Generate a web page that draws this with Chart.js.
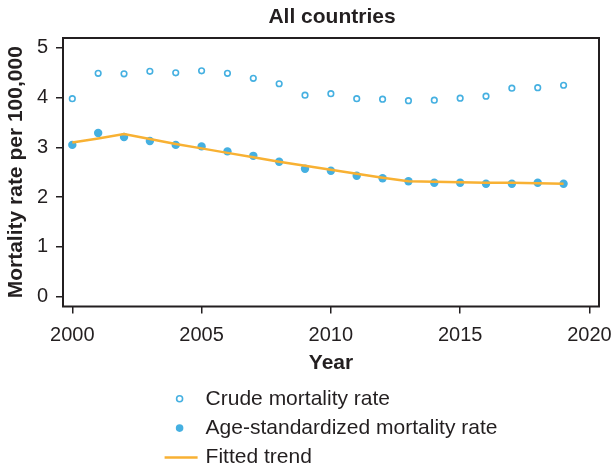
<!DOCTYPE html>
<html>
<head>
<meta charset="utf-8">
<title>All countries</title>
<script src="https://cdn.jsdelivr.net/npm/chart.js@4.4.1/dist/chart.umd.min.js"></script>
<style>
  html, body { margin: 0; padding: 0; background: #ffffff; }
  #wrap { width: 614px; height: 474px; }
  canvas { display: block; }
</style>
</head>
<body>
<div id="wrap"><canvas id="chart" width="614" height="474"></canvas></div>
<script>
// Mortality rate per 100,000, all countries, 2000-2019
const years = [2000, 2001, 2002, 2003, 2004, 2005, 2006, 2007, 2008, 2009,
               2010, 2011, 2012, 2013, 2014, 2015, 2016, 2017, 2018, 2019];
const crudeRate = [3.98, 4.49, 4.48, 4.53, 4.50, 4.54, 4.49, 4.39, 4.28, 4.05,
                   4.08, 3.98, 3.97, 3.94, 3.95, 3.99, 4.03, 4.19, 4.20, 4.25];
const ageStdRate = [3.05, 3.29, 3.21, 3.13, 3.05, 3.02, 2.92, 2.83, 2.71, 2.57,
                    2.53, 2.43, 2.38, 2.32, 2.29, 2.29, 2.27, 2.27, 2.29, 2.27];
const fittedTrend = [3.10, 3.18, 3.27, 3.17, 3.07, 2.98, 2.89, 2.80, 2.71, 2.63,
                     2.55, 2.47, 2.39, 2.32, 2.31, 2.30, 2.29, 2.29, 2.28, 2.27];
const xTicks = [2000, 2005, 2010, 2015, 2020];
const yTicks = [0, 1, 2, 3, 4, 5];
const chartTitle = 'All countries';
const xTitle = 'Year';
const yTitle = 'Mortality rate per 100,000';
const seriesLabels = ['Crude mortality rate', 'Age-standardized mortality rate', 'Fitted trend'];

const FONT = '"Liberation Sans", Arial, Helvetica, sans-serif';
const INK = '#231f20';
const BLUE = '#45b0e1';
const ORANGE = '#f8b133';

const toPoints = (vals) => years.map((y, i) => ({ x: y, y: vals[i] }));

// Fixed axis sizes; edge labels may overhang without shrinking the plot
const fixSize = (prop, size) => (s) => {
  s[prop] = size;
  s.paddingLeft = s.paddingRight = s.paddingTop = s.paddingBottom = 0;
};

// Frame around the plot area plus the centred title
const framePlugin = {
  id: 'frame',
  afterDraw(chart) {
    const { ctx, chartArea: a } = chart;
    ctx.save();
    ctx.strokeStyle = INK;
    ctx.lineWidth = 2;
    ctx.strokeRect(a.left, a.top, a.right - a.left, a.bottom - a.top);
    ctx.fillStyle = INK;
    ctx.font = 'bold 21px ' + FONT;
    ctx.textAlign = 'center';
    ctx.textBaseline = 'middle';
    ctx.fillText(chartTitle, (a.left + a.right) / 2 + 1, 17.5);
    ctx.restore();
  }
};

// Stacked legend under the x axis, styled from each dataset
const legendPlugin = {
  id: 'stackedLegend',
  afterDraw(chart) {
    const { ctx, chartArea: a } = chart;
    const ds = chart.data.datasets;
    ctx.save();
    ctx.font = '21px ' + FONT;
    const textW = Math.max(...ds.map(d => ctx.measureText(d.label).width));
    const markW = 33, gap = 8;
    const left = (a.left + a.right) / 2 - (markW + gap + textW) / 2;
    const markX = left + 15;
    const rowY = (i) => a.bottom + 92.3 + i * 29.3;
    ds.forEach((d, i) => {
      const y = rowY(i);
      if (d.showLine) {
        ctx.strokeStyle = d.borderColor;
        ctx.lineWidth = d.borderWidth;
        ctx.beginPath();
        ctx.moveTo(left, y);
        ctx.lineTo(left + markW, y);
        ctx.stroke();
      } else {
        ctx.beginPath();
        ctx.arc(markX, y, d.legendRadius, 0, Math.PI * 2);
        ctx.fillStyle = d.pointBackgroundColor;
        ctx.fill();
        if (d.pointBorderWidth > 0) {
          ctx.strokeStyle = d.pointBorderColor;
          ctx.lineWidth = d.pointBorderWidth;
          ctx.stroke();
        }
      }
      ctx.fillStyle = INK;
      ctx.textAlign = 'left';
      ctx.textBaseline = 'middle';
      ctx.fillText(d.label, left + markW + gap, y);
    });
    ctx.restore();
  }
};

new Chart(document.getElementById('chart'), {
  type: 'scatter',
  data: {
    datasets: [
      {
        label: seriesLabels[0],
        data: toPoints(crudeRate),
        showLine: false,
        pointRadius: 2.8,
        pointBorderWidth: 1.6,
        pointBackgroundColor: '#ffffff',
        pointBorderColor: BLUE,
        legendRadius: 3,
        order: 1
      },
      {
        label: seriesLabels[1],
        data: toPoints(ageStdRate),
        showLine: false,
        pointRadius: 4.2,
        pointBorderWidth: 0,
        pointBackgroundColor: BLUE,
        pointBorderColor: BLUE,
        legendRadius: 3.8,
        order: 1
      },
      {
        label: seriesLabels[2],
        data: toPoints(fittedTrend),
        showLine: true,
        borderColor: ORANGE,
        borderWidth: 2.5,
        pointRadius: 0,
        tension: 0,
        fill: false,
        order: 0
      }
    ]
  },
  options: {
    responsive: false,
    animation: false,
    devicePixelRatio: 1,
    layout: { padding: { left: 0, right: 15, top: 38, bottom: 98.5 } },
    plugins: {
      legend: { display: false },
      title: { display: false },
      tooltip: { enabled: false }
    },
    scales: {
      x: {
        type: 'linear',
        min: 1999.64,
        max: 2020.37,
        afterBuildTicks: (s) => { s.ticks = xTicks.map(v => ({ value: v })); },
        afterFit: fixSize('height', 69),
        border: { display: false },
        grid: { drawOnChartArea: false, drawTicks: true, tickLength: 7, color: INK, lineWidth: 1.5 },
        ticks: {
          padding: 10,
          color: INK,
          font: { family: FONT, size: 20 },
          maxRotation: 0,
          callback: (v) => String(v)
        },
        title: {
          display: true,
          text: xTitle,
          color: INK,
          font: { family: FONT, size: 21, weight: 'bold' },
          padding: { top: 0, bottom: 0 }
        }
      },
      y: {
        type: 'linear',
        min: -0.2,
        max: 5.2,
        afterBuildTicks: (s) => { s.ticks = yTicks.map(v => ({ value: v })); },
        afterFit: fixSize('width', 63),
        border: { display: false },
        grid: { drawOnChartArea: false, drawTicks: true, tickLength: 7, color: INK, lineWidth: 1.5 },
        ticks: {
          padding: 8,
          color: INK,
          font: { family: FONT, size: 20 },
          callback: (v) => String(v)
        },
        title: {
          display: true,
          text: yTitle,
          color: INK,
          font: { family: FONT, size: 21, weight: 'bold' },
          padding: { top: 4, bottom: 0 }
        }
      }
    }
  },
  plugins: [framePlugin, legendPlugin]
});
</script>
</body>
</html>
